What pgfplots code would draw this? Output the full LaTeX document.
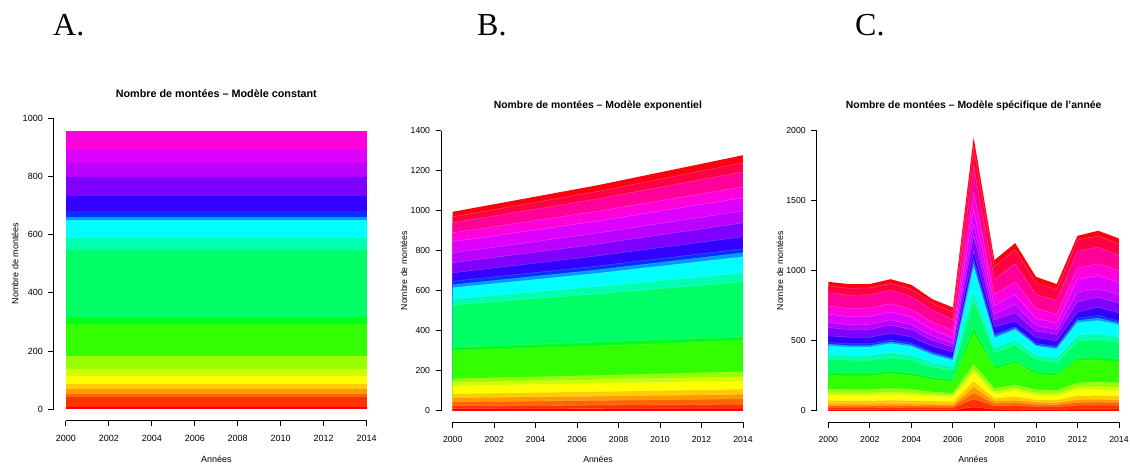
\documentclass[border=0pt]{standalone}
\usepackage{pgfplots}
\pgfplotsset{compat=1.18}
\usepackage{pgfplotstable}
\usepackage{fontspec}
\setmainfont{Liberation Sans}
\newfontfamily\serifA{Liberation Serif}

\definecolor{c1}{HTML}{FF0000}
\definecolor{c2}{HTML}{FF3300}
\definecolor{c3}{HTML}{FF6600}
\definecolor{c4}{HTML}{FF9900}
\definecolor{c5}{HTML}{FFCC00}
\definecolor{c6}{HTML}{FFFF00}
\definecolor{c7}{HTML}{CCFF00}
\definecolor{c8}{HTML}{99FF00}
\definecolor{c9}{HTML}{33FF00}
\definecolor{c10}{HTML}{00FF1A}
\definecolor{c11}{HTML}{00FF66}
\definecolor{c12}{HTML}{00FFB3}
\definecolor{c13}{HTML}{00FFFF}
\definecolor{c14}{HTML}{0099FF}
\definecolor{c15}{HTML}{0033FF}
\definecolor{c16}{HTML}{3300FF}
\definecolor{c17}{HTML}{8000FF}
\definecolor{c18}{HTML}{BB00FF}
\definecolor{c19}{HTML}{DD00FF}
\definecolor{c20}{HTML}{FF00DD}
\definecolor{c21}{HTML}{FF0099}
\definecolor{c22}{HTML}{FF0044}
\definecolor{c23}{HTML}{FF0011}

% cumulative upper boundaries of the stacked layers
\pgfplotstableread{
x c1 c2 c3 c4 c5 c6 c7 c8 c9 c10 c11 c12 c13 c14 c15 c16 c17 c18 c19 c20 c21 c22 c23
2000 6 40 52 69 86 115 138 182 291 317 547 587 651 662 683 733 798 846 892 955 955 955 958
2014 6 40 52 69 86 115 138 182 291 317 547 587 651 662 683 733 798 846 892 955 955 955 958
}\tabA

\pgfplotstableread{
x c1 c2 c3 c4 c5 c6 c7 c8 c9 c10 c11 c12 c13 c14 c15 c16 c17 c18 c19 c20 c21 c22 c23
2000 10 25 45 65 85 125 142 160 300 318 530 560 615 630 648 690 740 790 845 890 940 970 995
2007 11 28 52 73 96 137 155 177 324 344 585 622 688 705 724 775 834 889 949 998 1060 1097 1128
2014 12 32 60 82 108 150 170 195 350 372 645 690 770 790 810 870 940 1000 1065 1120 1195 1240 1278
}\tabB

\pgfplotstableread{
x c1 c2 c3 c4 c5 c6 c7 c8 c9 c10 c11 c12 c13 c14 c15 c16 c17 c18 c19 c20 c21 c22 c23
2000 7 24 36 48 74 112 129 155 250 274 369 405 464 476 488 536 595 631 690 750 845 893 921
2001 7 24 35 47 72 110 127 152 248 270 362 397 455 466 478 525 580 615 672 730 825 875 905
2002 7 24 35 47 72 110 127 152 248 270 362 397 455 466 478 525 582 618 675 735 830 878 906
2003 8 25 38 50 76 115 133 160 262 285 380 418 480 492 505 555 612 650 705 765 860 910 940
2004 7 24 36 48 73 110 127 152 250 272 365 400 460 471 482 528 580 615 668 725 815 868 900
2005 7 24 35 47 70 105 117 135 220 242 315 348 400 410 420 462 505 535 580 635 720 770 798
2006 7 23 34 45 67 100 110 125 205 225 290 320 360 370 380 420 455 480 520 570 650 705 738
2007 26 85 128 170 210 270 294 330 548 600 790 850 1024 1052 1080 1140 1250 1330 1440 1560 1750 1880 1952
2008 11 35 53 70 90 120 136 160 300 320 420 455 520 534 548 600 650 690 750 830 940 1030 1076
2009 11 38 56 75 101 140 158 185 340 360 470 510 580 590 600 640 700 760 830 920 1050 1150 1198
2010 9 30 45 60 80 110 126 150 262 282 370 400 462 471 480 524 570 610 660 730 830 915 957
2011 9 29 44 58 77 105 121 145 250 268 345 380 440 451 462 500 545 580 625 690 790 865 905
2012 12 40 60 80 108 150 170 200 360 380 500 540 630 645 660 705 780 850 940 1020 1140 1220 1250
2013 12 41 62 82 110 152 173 205 360 385 510 550 645 662 680 740 810 870 965 1050 1170 1250 1286
2014 12 39 59 78 105 145 167 200 345 370 490 530 615 628 640 700 770 830 915 1000 1110 1190 1231
}\tabC

\pgfplotsset{rstyle/.style={
  scale only axis, anchor=south west, clip=false,
  axis x line*=bottom, axis y line*=left,
  axis line style={draw=none},
  tick align=outside, major tick length=5.5pt,
  tick style={black, line width=0.8pt},
  xmin=1999.44, xmax=2014.56,
  xtick={2000,2002,...,2014},
  xticklabel shift=5pt,
  yticklabel shift=2pt,
  ticklabel style={font=\fontsize{9}{10}\selectfont},
  /pgf/number format/assume math mode=true,
  /pgf/number format/1000 sep={},
  /pgf/number format/fixed,
}}

\begin{document}
\begin{tikzpicture}
\path[use as bounding box] (0,0) rectangle (1130pt,-464pt);

% Panel letters
\node[anchor=base west, inner sep=0pt, font=\serifA\fontsize{32}{34}\selectfont] at (53pt,-35pt) {A.};
\node[anchor=base west, inner sep=0pt, font=\serifA\fontsize{32}{34}\selectfont] at (477pt,-35pt) {B.};
\node[anchor=base west, inner sep=0pt, font=\serifA\fontsize{32}{34}\selectfont] at (855pt,-35pt) {C.};

% Panel A
\begin{axis}[rstyle, at={(53.8pt,-420.7pt)}, width=324.9pt, height=314pt,
  ymin=-40, ymax=1040, ytick={0,200,...,1000}]
\pgfplotsinvokeforeach{23,22,...,1}{
  \addplot[fill=c#1, draw=none] table[x=x, y=c#1]{\tabA} \closedcycle;
}
\end{axis}
\draw[black, line width=0.9pt] (65.8pt,-420.7pt) -- (366.7pt,-420.7pt);
\draw[black, line width=0.9pt] (53.8pt,-409pt) -- (53.8pt,-118.3pt);
\node[font=\bfseries\fontsize{10.8}{12}\selectfont] at (216.3pt,-93.3pt) {Nombre de montées – Modèle constant};
\node[font=\fontsize{9}{10}\selectfont] at (216.3pt,-459pt) {Années};
\node[font=\fontsize{9}{10}\selectfont, rotate=90] at (15pt,-263.7pt) {Nombre de montées};

% Panel B
\begin{axis}[rstyle, at={(441.1pt,-422pt)}, width=313.5pt, height=302.4pt,
  ymin=-56, ymax=1456, ytick={0,200,...,1400},
  ticklabel style={font=\fontsize{8.7}{10}\selectfont}]
\pgfplotsinvokeforeach{23,22,...,1}{
  \addplot[fill=c#1, draw=none] table[x=x, y=c#1]{\tabB} \closedcycle;
}
\pgfplotsinvokeforeach{1,...,22}{
  \addplot[white, draw opacity=0.35, line width=0.3pt] table[x=x, y=c#1]{\tabB};
}
\end{axis}
\draw[black, line width=0.9pt] (452.7pt,-422pt) -- (743pt,-422pt);
\draw[black, line width=0.9pt] (441.1pt,-410.8pt) -- (441.1pt,-130.8pt);
\node[font=\bfseries\fontsize{10.4}{12}\selectfont] at (597.9pt,-106pt) {Nombre de montées – Modèle exponentiel};
\node[font=\fontsize{8.7}{10}\selectfont] at (598pt,-459.3pt) {Années};
\node[font=\fontsize{8.7}{10}\selectfont, rotate=90] at (404pt,-270.8pt) {Nombre de montées};

% Panel C
\begin{axis}[rstyle, at={(816.7pt,-422pt)}, width=313.9pt, height=302.4pt,
  ymin=-80, ymax=2080, ytick={0,500,...,2000},
  ticklabel style={font=\fontsize{8.7}{10}\selectfont}]
\pgfplotsinvokeforeach{23,22,...,1}{
  \addplot[fill=c#1, draw=none] table[x=x, y=c#1]{\tabC} \closedcycle;
}
\pgfplotsinvokeforeach{1,...,22}{
  \addplot[white, draw opacity=0.35, line width=0.3pt] table[x=x, y=c#1]{\tabC};
}
\end{axis}
\draw[black, line width=0.9pt] (828.3pt,-422pt) -- (1119pt,-422pt);
\draw[black, line width=0.9pt] (816.7pt,-410.8pt) -- (816.7pt,-130.8pt);
\node[font=\bfseries\fontsize{10.4}{12}\selectfont] at (973.7pt,-106pt) {Nombre de montées – Modèle spécifique de l'année};
\node[font=\fontsize{8.7}{10}\selectfont] at (973pt,-459pt) {Années};
\node[font=\fontsize{8.7}{10}\selectfont, rotate=90] at (780pt,-270.8pt) {Nombre de montées};
\end{tikzpicture}
\end{document}
